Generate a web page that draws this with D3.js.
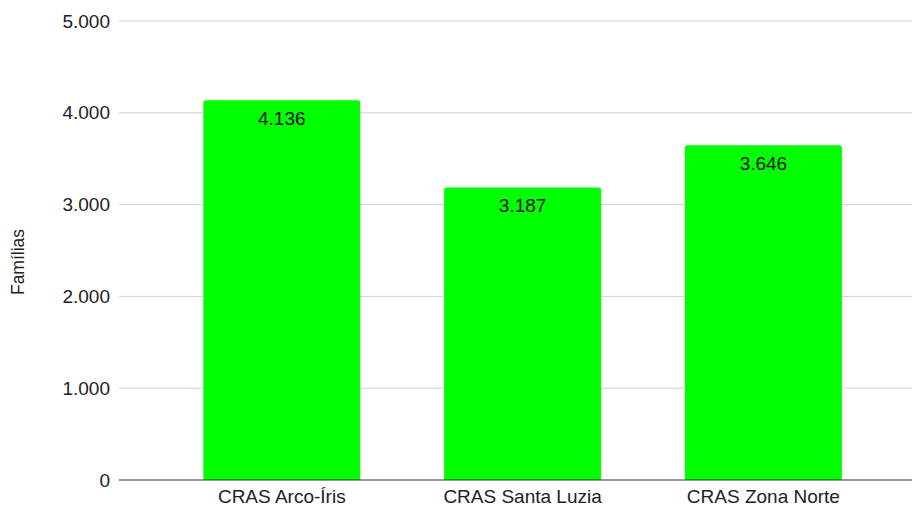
<!DOCTYPE html>
<html><head><meta charset="utf-8">
<script src="https://cdn.jsdelivr.net/npm/d3@7"></script>
<style>
html,body{margin:0;padding:0;background:#fff;}
svg{display:block;font-family:"Liberation Sans",Arial,sans-serif;}
</style></head>
<body><svg id="chart" width="912" height="506"></svg>
<script>
const categories = ["CRAS Arco-Íris", "CRAS Santa Luzia", "CRAS Zona Norte"];
const values = [4136, 3187, 3646];
const yTicks = [0, 1000, 2000, 3000, 4000, 5000];
const yTitle = "Famílias";

const svg = d3.select("#chart");
const fmt = v => d3.format(",")(v).replace(/,/g, ".");

const x = d3.scaleBand().domain(categories).range([161.4, 883.8])
  .paddingInner(0.348).paddingOuter(0.174);
const y = d3.scaleLinear().domain([0, 5000]).range([480, 21]);

// gridlines
svg.append("g").selectAll("line").data(yTicks.filter(d => d !== 0)).join("line")
  .attr("x1", 119).attr("x2", 912)
  .attr("y1", d => y(d)).attr("y2", d => y(d))
  .attr("stroke", "#d0d0d0").attr("stroke-width", 1);

// y labels
svg.append("g").selectAll("text").data(yTicks).join("text")
  .attr("x", 110).attr("y", d => y(d)).attr("dy", "0.35em")
  .attr("text-anchor", "end").attr("font-size", 19).attr("fill", "#222")
  .text(d => fmt(d));

// bars with rounded top corners
const r = 2.5;
svg.append("g").selectAll("path").data(values).join("path")
  .attr("fill", "#00ff00")
  .attr("d", (d, i) => {
    const x0 = x(categories[i]), w = x.bandwidth(), yt = y(d), yb = y(0);
    return `M${x0},${yb}V${yt + r}Q${x0},${yt} ${x0 + r},${yt}H${x0 + w - r}Q${x0 + w},${yt} ${x0 + w},${yt + r}V${yb}Z`;
  });

// value labels
svg.append("g").selectAll("text").data(values).join("text")
  .attr("x", (d, i) => x(categories[i]) + x.bandwidth() / 2)
  .attr("y", d => y(d) + 24.5)
  .attr("text-anchor", "middle").attr("font-size", 19).attr("fill", "#111")
  .text(d => fmt(d));

// baseline
svg.append("line").attr("x1", 119).attr("x2", 912)
  .attr("y1", y(0)).attr("y2", y(0)).attr("stroke", "#333").attr("stroke-width", 1.2);

// x labels
svg.append("g").selectAll("text").data(categories).join("text")
  .attr("x", d => x(d) + x.bandwidth() / 2).attr("y", 503)
  .attr("text-anchor", "middle").attr("font-size", 19).attr("fill", "#222")
  .text(d => d);

// y title
svg.append("text").attr("transform", "translate(24,262) rotate(-90)")
  .attr("text-anchor", "middle").attr("font-size", 17.5).attr("fill", "#222")
  .text(yTitle);
</script></body></html>
